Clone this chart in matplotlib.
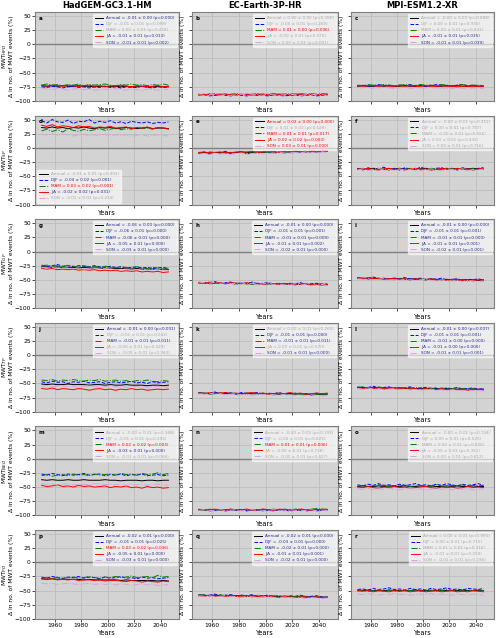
import matplotlib.pyplot as plt

# years sampled every 4 years
years = list(range(1950, 2050, 4))

models = ['HadGEM-GC3.1-HM', 'EC-Earth-3P-HR', 'MPI-ESM1.2-XR']
mwt_types = ['HPD', 'SP', 'GP', 'TP', 'NEO', 'PO']
seasons = ['Annual', 'DJF', 'MAM', 'JJA', 'SON']
letters = 'abcdefghijklmnopqr'

# series per panel: Annual, DJF, MAM, JJA, SON  (Δ in %)
a_data = [[-73,-74,-73,-74,-73,-74,-74,-73,-74,-74,-75,-74,-74,-75,-74,-75,-74,-75,-75,-74,-75,-75,-74,-75,-75],
          [-75,-76,-74,-75,-77,-75,-74,-76,-75,-77,-75,-76,-74,-76,-75,-77,-75,-76,-76,-74,-76,-77,-75,-76,-75],
          [-72,-70,-72,-71,-73,-71,-72,-70,-73,-71,-72,-71,-70,-72,-73,-71,-72,-70,-72,-71,-73,-71,-72,-70,-72],
          [-72,-74,-72,-73,-74,-72,-73,-75,-73,-72,-74,-73,-75,-73,-74,-72,-74,-75,-73,-74,-75,-74,-73,-75,-74],
          [-78,-79,-80,-78,-79,-81,-79,-78,-80,-79,-81,-80,-79,-80,-78,-80,-81,-79,-80,-81,-79,-80,-81,-80,-79]]
b_data = [[-89,-89,-88,-89,-89,-88,-89,-89,-88,-89,-89,-89,-88,-89,-89,-88,-89,-89,-89,-88,-89,-88,-89,-89,-88],
          [-90,-89,-91,-90,-89,-90,-91,-89,-90,-91,-89,-90,-90,-91,-89,-90,-91,-90,-89,-91,-90,-89,-91,-90,-90],
          [-89,-88,-89,-87,-88,-89,-88,-87,-89,-88,-88,-87,-89,-88,-87,-88,-88,-87,-88,-87,-88,-87,-88,-87,-88],
          [-88,-89,-88,-89,-88,-88,-89,-88,-89,-88,-89,-88,-88,-89,-88,-89,-88,-89,-88,-88,-89,-88,-89,-88,-89],
          [-89,-90,-89,-88,-90,-89,-90,-89,-88,-90,-89,-89,-90,-88,-89,-90,-89,-88,-89,-90,-89,-88,-89,-89,-90]]
c_data = [[-74,-73,-74,-74,-73,-74,-73,-74,-74,-73,-74,-74,-73,-74,-73,-74,-74,-73,-74,-73,-74,-74,-73,-74,-74],
          [-73,-72,-74,-73,-71,-73,-72,-74,-72,-73,-71,-73,-72,-74,-73,-71,-72,-73,-74,-72,-71,-73,-72,-74,-73],
          [-72,-73,-71,-72,-73,-71,-72,-73,-72,-71,-72,-73,-71,-72,-72,-73,-71,-72,-73,-72,-71,-73,-72,-72,-73],
          [-73,-74,-73,-73,-74,-73,-74,-74,-73,-74,-73,-74,-74,-73,-74,-74,-73,-74,-74,-75,-74,-74,-75,-74,-74],
          [-76,-77,-76,-78,-77,-76,-77,-78,-77,-76,-78,-77,-77,-78,-76,-78,-77,-78,-78,-77,-78,-79,-77,-78,-78]]
d_data = [[36,35,37,35,36,34,36,35,37,35,34,36,35,36,34,35,36,35,34,35,36,34,35,35,34],
          [48,44,50,46,45,49,43,47,46,50,44,47,45,48,44,46,43,47,45,44,46,43,45,44,46],
          [30,33,29,32,28,34,31,29,33,30,32,34,31,33,35,32,34,33,36,34,35,33,36,35,34],
          [40,38,41,37,39,38,36,39,37,38,35,37,36,38,35,36,37,34,36,35,37,34,36,35,33],
          [24,23,25,22,24,23,21,23,24,22,23,22,24,21,23,22,23,21,22,23,21,22,23,22,21]]
e_data = [[-9,-8,-9,-8,-8,-9,-8,-8,-7,-8,-8,-7,-8,-7,-7,-8,-7,-7,-6,-7,-7,-6,-7,-6,-6],
          [-10,-7,-11,-8,-9,-6,-10,-8,-7,-11,-8,-9,-6,-8,-10,-7,-9,-6,-8,-7,-5,-8,-6,-7,-5],
          [-8,-9,-7,-8,-9,-7,-8,-8,-7,-9,-7,-8,-7,-8,-6,-7,-8,-6,-7,-6,-7,-6,-7,-6,-6],
          [-8,-7,-9,-8,-7,-8,-9,-7,-8,-7,-6,-8,-7,-6,-7,-8,-6,-7,-5,-6,-7,-5,-6,-5,-5],
          [-11,-10,-12,-9,-11,-10,-12,-10,-9,-11,-10,-9,-11,-9,-10,-8,-9,-10,-8,-9,-7,-8,-9,-7,-8]]
f_data = [[-37,-38,-37,-36,-37,-38,-37,-37,-36,-37,-38,-37,-37,-36,-37,-38,-37,-36,-37,-37,-38,-37,-36,-37,-37],
          [-36,-39,-35,-38,-37,-34,-38,-36,-39,-35,-37,-38,-34,-37,-39,-36,-35,-38,-36,-39,-35,-37,-38,-36,-35],
          [-38,-36,-39,-37,-36,-38,-39,-36,-37,-38,-36,-39,-37,-38,-36,-37,-39,-37,-36,-38,-37,-39,-36,-38,-37],
          [-37,-38,-36,-38,-39,-37,-36,-38,-37,-39,-37,-36,-38,-37,-39,-38,-36,-37,-38,-36,-38,-37,-39,-37,-36],
          [-39,-37,-40,-38,-36,-39,-38,-40,-37,-39,-38,-36,-40,-38,-37,-39,-40,-37,-38,-39,-37,-40,-38,-39,-37]]
g_data = [[-27,-27,-28,-27,-28,-28,-28,-29,-28,-29,-29,-29,-30,-29,-30,-30,-30,-31,-30,-31,-31,-31,-32,-31,-32],
          [-24,-26,-25,-23,-26,-25,-27,-25,-26,-27,-25,-27,-28,-26,-28,-27,-29,-28,-27,-29,-28,-30,-29,-28,-30],
          [-25,-24,-26,-25,-27,-24,-26,-27,-25,-27,-26,-28,-26,-27,-29,-27,-28,-29,-27,-29,-30,-28,-29,-31,-29],
          [-30,-31,-30,-32,-31,-32,-31,-33,-32,-33,-32,-34,-33,-34,-33,-35,-34,-35,-34,-36,-35,-36,-35,-37,-36],
          [-28,-29,-28,-30,-29,-29,-30,-29,-31,-30,-30,-31,-30,-31,-32,-31,-31,-32,-32,-31,-33,-32,-32,-33,-33]]
h_data = [[-55,-55,-56,-55,-56,-56,-56,-56,-56,-57,-56,-57,-57,-57,-57,-57,-58,-57,-58,-58,-58,-58,-58,-59,-58],
          [-54,-56,-55,-53,-56,-55,-54,-57,-55,-56,-54,-57,-56,-55,-57,-56,-58,-56,-57,-55,-58,-57,-56,-58,-57],
          [-56,-55,-57,-56,-55,-57,-56,-58,-56,-57,-58,-56,-57,-58,-57,-56,-58,-57,-59,-57,-58,-59,-57,-58,-59],
          [-55,-56,-54,-56,-55,-57,-55,-56,-57,-55,-57,-56,-58,-56,-57,-58,-56,-58,-57,-58,-57,-59,-58,-57,-59],
          [-54,-55,-56,-54,-56,-55,-57,-56,-55,-57,-56,-58,-57,-56,-58,-57,-59,-58,-57,-59,-58,-60,-59,-58,-60]]
i_data = [[-47,-47,-48,-47,-48,-48,-48,-48,-48,-49,-48,-49,-49,-49,-49,-49,-50,-49,-50,-50,-50,-50,-50,-51,-50],
          [-46,-48,-47,-45,-48,-47,-49,-47,-48,-46,-49,-48,-47,-50,-48,-49,-47,-50,-49,-48,-51,-49,-50,-48,-51],
          [-48,-47,-49,-48,-47,-49,-48,-50,-48,-49,-50,-48,-49,-50,-49,-51,-49,-50,-51,-49,-50,-52,-50,-51,-52],
          [-47,-48,-46,-48,-47,-49,-48,-47,-49,-48,-50,-48,-49,-50,-48,-50,-49,-51,-49,-50,-51,-50,-52,-50,-51],
          [-48,-49,-48,-50,-49,-48,-50,-49,-51,-49,-50,-51,-50,-49,-51,-52,-50,-51,-52,-51,-53,-51,-52,-53,-52]]
j_data = [[-51,-52,-51,-52,-52,-51,-52,-52,-52,-53,-52,-52,-53,-52,-53,-53,-52,-53,-53,-53,-54,-53,-53,-54,-53],
          [-47,-49,-46,-48,-47,-50,-47,-48,-46,-49,-48,-47,-50,-48,-47,-49,-48,-46,-49,-48,-50,-47,-49,-48,-47],
          [-44,-45,-43,-46,-44,-45,-43,-45,-46,-44,-45,-43,-46,-45,-44,-46,-45,-47,-45,-46,-44,-46,-47,-45,-46],
          [-59,-60,-58,-61,-59,-60,-61,-59,-60,-62,-60,-59,-61,-60,-62,-60,-61,-59,-61,-60,-62,-61,-60,-61,-60],
          [-55,-54,-56,-55,-54,-56,-55,-57,-55,-54,-56,-55,-56,-54,-56,-55,-57,-55,-56,-55,-57,-56,-55,-56,-57]]
k_data = [[-67,-67,-68,-67,-67,-68,-67,-68,-68,-67,-68,-68,-68,-68,-68,-69,-68,-68,-69,-68,-69,-69,-69,-69,-69],
          [-66,-68,-67,-65,-68,-66,-67,-69,-66,-68,-67,-66,-69,-67,-68,-66,-69,-68,-67,-69,-68,-70,-67,-69,-68],
          [-68,-67,-69,-68,-67,-69,-68,-67,-69,-70,-68,-69,-67,-69,-70,-68,-69,-70,-68,-70,-69,-71,-69,-70,-70],
          [-67,-68,-66,-68,-67,-66,-68,-67,-69,-67,-66,-68,-67,-69,-68,-67,-68,-66,-68,-67,-69,-68,-67,-68,-67],
          [-68,-69,-67,-69,-68,-70,-69,-68,-70,-69,-71,-69,-70,-68,-70,-71,-69,-70,-71,-70,-72,-70,-71,-72,-71]]
l_data = [[-57,-57,-58,-57,-58,-58,-58,-58,-58,-59,-58,-59,-59,-59,-59,-59,-60,-59,-60,-60,-60,-60,-60,-61,-60],
          [-56,-58,-57,-55,-58,-57,-56,-59,-57,-58,-56,-59,-58,-57,-59,-58,-60,-58,-59,-57,-60,-59,-58,-60,-59],
          [-57,-56,-58,-57,-56,-58,-57,-59,-57,-58,-59,-57,-58,-59,-58,-60,-58,-59,-60,-58,-59,-61,-59,-60,-61],
          [-58,-59,-57,-59,-58,-60,-58,-59,-60,-58,-60,-59,-61,-59,-60,-61,-59,-61,-60,-61,-60,-62,-61,-60,-62],
          [-59,-60,-58,-60,-59,-61,-60,-59,-61,-60,-62,-60,-61,-62,-60,-62,-61,-63,-61,-62,-63,-61,-63,-62,-63]]
m_data = [[-37,-38,-37,-38,-38,-37,-38,-38,-37,-38,-38,-38,-37,-38,-38,-39,-38,-38,-38,-39,-38,-38,-39,-38,-38],
          [-27,-29,-26,-28,-30,-27,-29,-28,-26,-29,-28,-27,-30,-28,-29,-27,-30,-28,-29,-27,-30,-29,-28,-30,-29],
          [-30,-28,-31,-29,-28,-30,-27,-29,-28,-30,-27,-29,-28,-27,-29,-26,-28,-27,-29,-26,-28,-27,-25,-28,-26],
          [-47,-49,-48,-46,-49,-48,-50,-47,-49,-48,-50,-49,-48,-51,-49,-50,-48,-51,-50,-52,-49,-51,-50,-52,-51],
          [-44,-45,-44,-46,-45,-44,-46,-45,-45,-46,-44,-45,-46,-45,-46,-45,-47,-45,-46,-45,-47,-46,-45,-46,-47]]
n_data = [[-90,-90,-90,-91,-90,-90,-91,-90,-90,-91,-90,-91,-90,-90,-91,-90,-91,-90,-90,-91,-90,-91,-90,-91,-90],
          [-91,-90,-92,-91,-90,-92,-91,-91,-90,-92,-91,-90,-92,-91,-92,-90,-91,-92,-91,-90,-92,-91,-92,-91,-90],
          [-90,-91,-89,-90,-91,-90,-89,-91,-90,-89,-90,-91,-89,-90,-89,-90,-89,-90,-89,-89,-90,-89,-88,-89,-89],
          [-89,-90,-90,-89,-90,-91,-89,-90,-90,-89,-91,-90,-89,-90,-91,-89,-90,-90,-91,-89,-90,-91,-90,-89,-90],
          [-91,-90,-91,-92,-90,-91,-91,-90,-92,-91,-90,-91,-92,-91,-90,-91,-92,-90,-91,-92,-91,-90,-92,-91,-91]]
o_data = [[-49,-48,-49,-49,-48,-49,-48,-49,-49,-48,-49,-49,-48,-49,-48,-49,-49,-48,-49,-48,-49,-49,-48,-49,-49],
          [-46,-48,-45,-47,-44,-47,-46,-48,-45,-47,-46,-44,-47,-46,-48,-45,-47,-44,-46,-48,-45,-47,-46,-44,-47],
          [-48,-47,-49,-48,-46,-48,-49,-47,-48,-46,-49,-48,-47,-49,-48,-46,-48,-49,-47,-48,-46,-49,-47,-48,-47],
          [-50,-51,-49,-51,-52,-50,-51,-49,-51,-50,-52,-51,-50,-49,-51,-52,-50,-51,-50,-52,-51,-49,-51,-50,-51],
          [-53,-54,-52,-55,-53,-54,-52,-54,-55,-53,-52,-54,-53,-55,-54,-52,-54,-53,-55,-53,-54,-52,-55,-54,-53]]
p_data = [[-29,-30,-29,-30,-30,-30,-30,-30,-31,-30,-31,-31,-31,-31,-31,-32,-31,-32,-32,-32,-32,-32,-33,-32,-33],
          [-26,-28,-25,-27,-29,-26,-27,-25,-28,-26,-27,-29,-26,-28,-27,-25,-28,-27,-29,-26,-28,-27,-29,-28,-27],
          [-28,-27,-29,-26,-28,-27,-26,-28,-27,-25,-27,-28,-26,-27,-25,-27,-26,-24,-27,-26,-25,-27,-23,-26,-25],
          [-29,-30,-29,-31,-30,-31,-30,-32,-31,-31,-32,-31,-33,-32,-32,-33,-34,-32,-33,-35,-33,-34,-35,-33,-34],
          [-37,-38,-37,-39,-38,-37,-38,-39,-38,-37,-39,-38,-39,-38,-40,-38,-39,-40,-39,-38,-40,-39,-41,-39,-40]]
q_data = [[-58,-58,-59,-58,-59,-59,-59,-59,-59,-60,-59,-60,-60,-60,-60,-60,-61,-60,-61,-61,-61,-61,-61,-62,-61],
          [-57,-59,-58,-56,-59,-58,-57,-60,-58,-59,-57,-60,-59,-58,-60,-59,-61,-59,-60,-58,-61,-60,-59,-61,-62],
          [-58,-57,-59,-58,-57,-59,-58,-60,-58,-59,-60,-58,-59,-60,-59,-61,-59,-60,-61,-59,-60,-62,-60,-61,-62],
          [-59,-60,-58,-60,-59,-60,-59,-60,-61,-59,-61,-60,-61,-60,-61,-62,-60,-61,-62,-61,-61,-62,-61,-62,-62],
          [-59,-60,-59,-61,-60,-59,-61,-60,-62,-60,-61,-62,-61,-60,-62,-63,-61,-62,-63,-62,-64,-62,-63,-64,-63]]
r_data = [[-50,-50,-49,-50,-50,-50,-49,-50,-50,-50,-50,-49,-50,-50,-50,-50,-49,-50,-50,-50,-49,-50,-50,-50,-50],
          [-48,-47,-49,-46,-48,-47,-45,-48,-47,-49,-46,-48,-47,-49,-46,-48,-47,-45,-48,-47,-49,-46,-47,-48,-46],
          [-50,-49,-51,-50,-48,-51,-49,-50,-51,-49,-50,-48,-51,-50,-49,-51,-50,-48,-50,-49,-51,-49,-50,-48,-50],
          [-50,-51,-50,-52,-50,-51,-52,-50,-51,-50,-52,-51,-50,-52,-51,-50,-52,-51,-50,-52,-51,-52,-50,-51,-52],
          [-56,-57,-55,-57,-58,-56,-57,-55,-57,-56,-58,-57,-56,-57,-55,-58,-56,-57,-58,-56,-57,-58,-56,-57,-58]]

# trend, error, p-value per season (Annual, DJF, MAM, JJA, SON)
a_stats = [(-0.01, 0.00, 0.000), (-0.01, 0.01, 0.098), (0.00, 0.01, 0.458), (-0.01, 0.01, 0.013), (-0.01, 0.01, 0.002)]
b_stats = [(0.00, 0.00, 0.390), (-0.00, 0.01, 0.269), (0.01, 0.00, 0.006), (-0.00, 0.01, 0.570), (0.00, 0.01, 0.091)]
c_stats = [(-0.00, 0.00, 0.888), (0.00, 0.01, 0.930), (0.00, 0.01, 0.641), (-0.01, 0.01, 0.035), (-0.01, 0.01, 0.039)]
d_stats = [(-0.01, 0.01, 0.302), (-0.04, 0.02, 0.001), (0.03, 0.02, 0.001), (-0.02, 0.02, 0.031), (-0.01, 0.02, 0.214)]
e_stats = [(0.02, 0.00, 0.000), (0.01, 0.02, 0.128), (0.01, 0.01, 0.017), (0.02, 0.02, 0.003), (0.03, 0.01, 0.000)]
f_stats = [(-0.00, 0.01, 0.351), (0.00, 0.01, 0.787), (-0.00, 0.01, 0.556), (0.00, 0.01, 0.445), (0.00, 0.01, 0.716)]
g_stats = [(-0.06, 0.00, 0.000), (-0.06, 0.01, 0.000), (-0.06, 0.01, 0.000), (-0.05, 0.01, 0.000), (-0.03, 0.01, 0.000)]
h_stats = [(-0.01, 0.00, 0.000), (-0.01, 0.01, 0.001), (-0.01, 0.01, 0.009), (-0.01, 0.01, 0.002), (-0.02, 0.01, 0.000)]
i_stats = [(-0.01, 0.00, 0.000), (-0.01, 0.01, 0.001), (-0.01, 0.01, 0.000), (-0.01, 0.01, 0.001), (-0.02, 0.01, 0.001)]
j_stats = [(-0.01, 0.00, 0.001), (-0.01, 0.01, 0.542), (-0.01, 0.01, 0.011), (-0.00, 0.01, 0.329), (-0.00, 0.01, 0.363)]
k_stats = [(0.00, 0.01, 0.265), (-0.01, 0.01, 0.000), (-0.01, 0.01, 0.011), (0.00, 0.01, 0.570), (-0.01, 0.01, 0.000)]
l_stats = [(-0.01, 0.00, 0.007), (-0.01, 0.01, 0.001), (-0.01, 0.00, 0.000), (-0.01, 0.00, 0.000), (-0.01, 0.01, 0.001)]
m_stats = [(-0.00, 0.01, 0.368), (-0.01, 0.01, 0.295), (0.02, 0.02, 0.003), (-0.03, 0.01, 0.000), (-0.01, 0.01, 0.068)]
n_stats = [(-0.00, 0.00, 0.193), (-0.00, 0.01, 0.625), (0.01, 0.01, 0.006), (-0.00, 0.01, 0.718), (-0.00, 0.01, 0.427)]
o_stats = [(-0.00, 0.01, 0.744), (0.00, 0.01, 0.520), (0.00, 0.01, 0.836), (-0.00, 0.01, 0.351), (0.00, 0.01, 0.612)]
p_stats = [(-0.02, 0.01, 0.000), (-0.01, 0.01, 0.025), (0.02, 0.02, 0.036), (-0.05, 0.01, 0.000), (-0.03, 0.01, 0.000)]
q_stats = [(-0.02, 0.01, 0.000), (-0.03, 0.01, 0.000), (-0.02, 0.01, 0.000), (-0.01, 0.01, 0.001), (-0.02, 0.01, 0.000)]
r_stats = [(0.00, 0.01, 0.995), (0.00, 0.01, 0.715), (0.01, 0.01, 0.316), (-0.01, 0.01, 0.259), (-0.01, 0.01, 0.236)]

panel_data = [a_data, b_data, c_data, d_data, e_data, f_data, g_data, h_data, i_data,
              j_data, k_data, l_data, m_data, n_data, o_data, p_data, q_data, r_data]
panel_stats = [a_stats, b_stats, c_stats, d_stats, e_stats, f_stats, g_stats, h_stats, i_stats,
               j_stats, k_stats, l_stats, m_stats, n_stats, o_stats, p_stats, q_stats, r_stats]

line_colors = ['black', 'blue', 'green', 'red', 'plum']
line_styles = ['-', '--', '-.', '-', '-.']

fig = plt.figure(figsize=(5, 6.38), dpi=100)

col_left = [0.070, 0.384, 0.702]
col_width = [0.288, 0.292, 0.286]
ax_h = 89 / 638

for idx in range(18):
    row, col = divmod(idx, 3)
    bottom = 1 - (101 + 103.6 * row) / 638
    ax = fig.add_axes([col_left[col], bottom, col_width[col], ax_h])
    ax.set_facecolor('lightgray')
    ax.grid(True, color='#bdbdbd', lw=0.6)
    ax.set_axisbelow(True)
    ax.axhline(0, color='gray', lw=1.0)

    for s in range(5):
        slope, err, p = panel_stats[idx][s]
        lab = f'{seasons[s]} = {slope:.2f} ± {err:.2f} (p={p:.3f})'
        ax.plot(years, panel_data[idx][s], color=line_colors[s], ls=line_styles[s],
                lw=0.7, label=lab)

    ax.set_xlim(1945, 2054)
    ax.set_ylim(-100, 57)
    ax.set_yticks([-100, -75, -50, -25, 0, 25, 50])
    ax.set_xticks([1960, 1980, 2000, 2020, 2040])
    ax.tick_params(labelsize=4.3, length=2, width=0.5, pad=1)
    for sp in ax.spines.values():
        sp.set_color('gray')
        sp.set_linewidth(0.8)
    if row < 5:
        ax.set_xticklabels([])
    if col > 0:
        ax.set_yticklabels([])
        ax.set_ylabel('Δ in no. of MWT events (%)', fontsize=4.3, labelpad=2)
    else:
        ax.set_ylabel('MWT$_{' + mwt_types[row] + '}$\nΔ in no. of MWT events (%)',
                      fontsize=4.3, labelpad=0.5, linespacing=1.0)
    ax.set_xlabel('Years', fontsize=4.8, labelpad=1)
    if row == 0:
        ax.set_title(models[col], fontsize=6, fontweight='bold', pad=3)
    ax.text(0.025, 0.93, letters[idx], transform=ax.transAxes, fontsize=4,
            fontweight='bold', va='center')

    loc = 'lower left' if idx == 3 else 'upper right'
    leg = ax.legend(loc=loc, fontsize=3.0, handlelength=2.0, framealpha=0.6,
                    edgecolor='white', borderpad=0.5, labelspacing=0.5,
                    handletextpad=0.8)
    for s, txt in enumerate(leg.get_texts()):
        slope, err, p = panel_stats[idx][s]
        if p < 0.05:
            txt.set_color('red' if slope > 0 else '#2a2a8a')
        else:
            txt.set_color('darkgray')

fig.savefig('out.png', dpi=100)
